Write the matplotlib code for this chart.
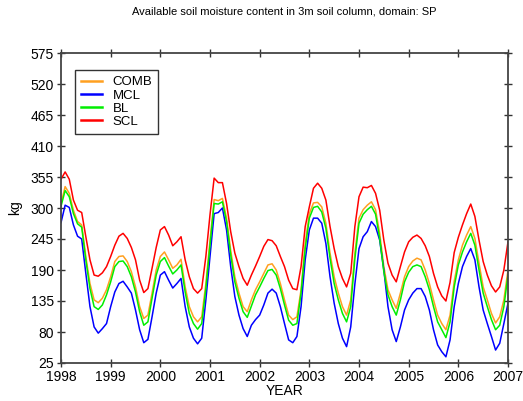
import numpy as np
import matplotlib
matplotlib.use("Agg")
import matplotlib.pyplot as plt

plt.rcParams['font.family'] = ['Liberation Sans', 'DejaVu Sans']

start_year = 1998
scl = [351, 364, 351, 314, 296, 292, 249, 208, 181, 179, 185, 196,
       214, 234, 250, 255, 246, 230, 208, 172, 150, 157, 193, 230,
       261, 267, 252, 233, 240, 249, 208, 178, 157, 149, 157, 214,
       288, 353, 345, 345, 308, 258, 220, 196, 175, 163, 181, 197,
       214, 232, 244, 242, 233, 214, 196, 172, 157, 155, 196, 267,
       302, 335, 344, 335, 314, 267, 228, 196, 175, 160, 184, 267,
       320, 337, 336, 340, 326, 296, 243, 202, 181, 169, 196, 222,
       240, 248, 252, 246, 233, 214, 184, 160, 144, 135, 168, 221,
       248, 270, 290, 307, 285, 243, 205, 181, 162, 151, 160, 190,
       240]
comb = [308, 338, 326, 296, 276, 270, 214, 166, 137, 132, 140, 155,
        178, 205, 214, 215, 205, 187, 160, 125, 104, 110, 149, 190,
        214, 222, 208, 193, 199, 209, 160, 125, 107, 98, 107, 166,
        243, 315, 313, 317, 282, 225, 178, 149, 125, 116, 137, 155,
        169, 184, 199, 201, 190, 166, 137, 110, 102, 107, 155, 237,
        290, 309, 310, 302, 273, 220, 178, 149, 125, 110, 137, 220,
        282, 297, 305, 311, 297, 255, 196, 155, 137, 122, 149, 178,
        196, 206, 211, 208, 190, 166, 137, 110, 95, 84, 110, 170,
        208, 234, 252, 267, 246, 202, 160, 137, 113, 96, 107, 137,
        190]
bl = [303, 331, 320, 290, 272, 266, 208, 157, 125, 120, 128, 146,
      169, 196, 205, 206, 196, 178, 151, 116, 92, 98, 140, 181,
      205, 212, 197, 183, 190, 199, 151, 113, 95, 85, 95, 157,
      234, 308, 307, 311, 276, 217, 169, 140, 116, 106, 126, 146,
      160, 175, 189, 191, 181, 157, 128, 101, 92, 95, 149, 228,
      282, 301, 303, 293, 264, 211, 166, 137, 113, 98, 125, 210,
      273, 289, 297, 303, 289, 246, 187, 146, 125, 110, 137, 169,
      186, 196, 199, 196, 178, 155, 125, 98, 84, 70, 98, 160,
      199, 222, 240, 255, 234, 190, 149, 125, 102, 84, 92, 125,
      181]
mcl = [274, 305, 301, 270, 250, 245, 184, 125, 89, 78, 86, 95,
       125, 151, 166, 170, 160, 149, 119, 84, 61, 67, 107, 149,
       181, 187, 172, 158, 166, 175, 125, 89, 69, 59, 69, 137,
       214, 290, 292, 300, 261, 196, 143, 110, 86, 72, 92, 102,
       110, 128, 149, 156, 149, 125, 95, 66, 61, 72, 125, 208,
       261, 282, 282, 273, 237, 178, 131, 95, 69, 54, 89, 165,
       228, 249, 258, 276, 267, 243, 190, 125, 84, 63, 89, 119,
       137, 149, 157, 157, 143, 119, 84, 57, 45, 36, 66, 125,
       166, 196, 214, 228, 208, 160, 119, 95, 72, 48, 60, 95,
       131]

series_names = ["COMB", "MCL", "BL", "SCL"]
series_vals = [comb, mcl, bl, scl]
series_colors = ["#FFA020", "#0000FF", "#00EE00", "#FF0000"]

yticks = [25, 80, 135, 190, 245, 300, 355, 410, 465, 520, 575]
xticks = list(range(1998, 2008))

years = start_year + np.arange(len(scl)) / 12.0

fig = plt.figure(figsize=(5.23, 4.01), dpi=100)
ax = fig.add_axes([61/523, 1-363/401, 447/523, 310/401])

for name, vals, col in zip(series_names, series_vals, series_colors):
    ax.plot(years, vals, color=col, lw=1.1, label=name)

ax.set_xlim(1998, 2007)
ax.set_ylim(25, 575)
ax.set_xticks(xticks)
ax.set_yticks(yticks)
ax.set_xticklabels([str(x) for x in xticks], fontsize=10)
ax.set_yticklabels([str(y) for y in yticks], fontsize=10)
ax.tick_params(axis='both', which='both', direction='inout', length=6, width=1, color='#333333', pad=2)
ax.tick_params(top=True, right=True)
for s in ax.spines.values():
    s.set_color('#444444')
    s.set_linewidth(1.3)

ax.set_xlabel("YEAR", fontsize=10, labelpad=0)
ax.set_ylabel("kg", fontsize=10, labelpad=6)

leg = ax.legend(loc='upper left', bbox_to_anchor=(0.031, 0.945), fontsize=9.5,
                frameon=True, fancybox=False, handlelength=1.6, handletextpad=0.8,
                labelspacing=0.08, borderpad=0.45, borderaxespad=0)
leg.get_frame().set_edgecolor('black')
leg.get_frame().set_linewidth(1.0)
for line in leg.get_lines():
    line.set_linewidth(1.8)

fig.text(284.5/523, 1-12/401, "Available soil moisture content in 3m soil column, domain: SP",
         ha='center', va='center', fontsize=8)

fig.savefig("out.png", dpi=100)
